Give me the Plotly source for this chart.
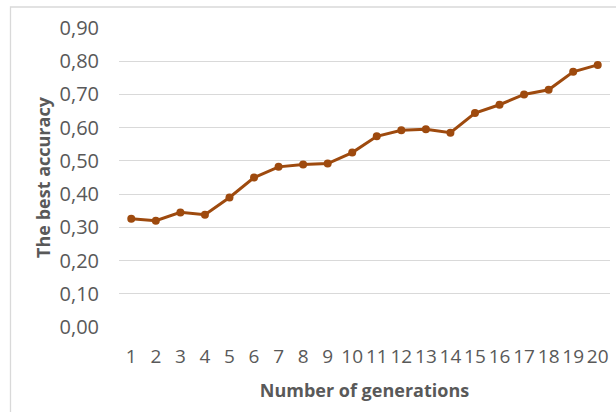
import plotly.graph_objects as go

generations = list(range(1, 21))
best_accuracy = [0.326, 0.320, 0.345, 0.338, 0.390, 0.450, 0.482, 0.489, 0.492, 0.525,
                 0.574, 0.592, 0.595, 0.585, 0.644, 0.669, 0.700, 0.714, 0.768, 0.789]
y_ticks = [0.0, 0.1, 0.2, 0.3, 0.4, 0.5, 0.6, 0.7, 0.8, 0.9]

W, H = 616, 412
L, R, T, B = 119, 6, 28, 85
pw, ph = W - L - R, H - T - B

line_color = "#9E4A0E"
text_color = "#595959"
grid_color = "#D9D9D9"
font_family = "Open Sans, Noto Sans, sans-serif"

fig = go.Figure()
fig.add_trace(go.Scatter(
    x=generations, y=best_accuracy, mode="lines+markers",
    line=dict(color=line_color, width=3),
    marker=dict(color=line_color, size=8),
    showlegend=False,
))

fig.update_layout(
    width=W, height=H,
    margin=dict(l=L, r=R, t=T, b=B),
    paper_bgcolor="white", plot_bgcolor="white",
    separators=",.",
    font=dict(family=font_family, color=text_color, size=18),
    xaxis=dict(
        range=[0.5, 20.5], tickmode="array", tickvals=generations,
        showgrid=False, zeroline=False, showline=False, ticks="",
        tickangle=0,
        tickfont=dict(size=19, color=text_color),
        ticklabelstandoff=16,
        title=dict(text="<b>Number of generations</b>",
                   font=dict(size=18, color=text_color), standoff=16),
    ),
    yaxis=dict(
        range=[0, 0.9], tickmode="array", tickvals=y_ticks, tickformat=".2f",
        showgrid=True, gridcolor=grid_color, gridwidth=1.3,
        zeroline=False, showline=False, ticks="",
        tickfont=dict(size=20, color=text_color),
        ticklabelstandoff=19,
        title=dict(text="<b>The best accuracy</b>",
                   font=dict(size=18, color=text_color), standoff=4),
    ),
)

# chart-area frame (left/top edges visible, right/bottom run off the image)
fig.add_shape(type="rect", xref="paper", yref="paper",
              x0=(10.5 - L) / pw, x1=(W + 20 - L) / pw,
              y0=-(H + 20 - T - ph) / ph, y1=(H - B - 7) / ph,
              line=dict(color=grid_color, width=1.3), fillcolor="rgba(0,0,0,0)",
              layer="below")

fig.write_html("out.html", config={"displayModeBar": False},
               post_script="document.body.style.margin='0';")
